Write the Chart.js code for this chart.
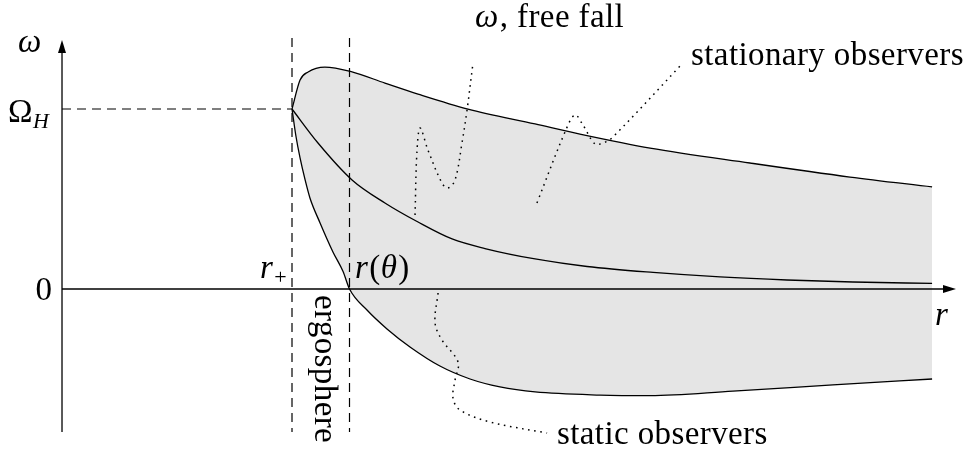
<!DOCTYPE html>
<html>
<head>
<meta charset="utf-8">
<script src="https://cdn.jsdelivr.net/npm/chart.js@4.4.1/dist/chart.umd.min.js"></script>
<style>
  html, body { margin: 0; padding: 0; background: #fff; }
  #wrap { width: 967px; height: 457px; position: relative; }
</style>
</head>
<body>
<div id="wrap"><canvas id="chart"></canvas></div>
<script>
// units: r in units of r_+, omega in units of Omega_H
const R_PLUS = 1.0;
const R_THETA = 1.25;
const OMEGA_H = 1.0;

// axes extent
const axisRMax = 3.887;
const axisOmegaMin = -0.794;
const axisOmegaMax = 1.383;
const dashOmegaTop = 1.394;

// upper boundary (max omega)
const upperR = [1.0, 1.035, 1.07, 1.143, 1.261, 1.404, 1.548, 1.765, 2.057, 2.252, 2.557, 2.991, 3.426, 3.783];
const upperOmega = [1.0, 1.161, 1.206, 1.233, 1.206, 1.144, 1.083, 1.0, 0.917, 0.861, 0.783, 0.7, 0.622, 0.567];

// middle curve (free fall)
const middleR = [1.0, 1.113, 1.261, 1.404, 1.548, 1.696, 1.839, 2.057, 2.283, 2.57, 2.861, 3.152, 3.439, 3.783];
const middleOmega = [1.0, 0.811, 0.606, 0.478, 0.372, 0.278, 0.225, 0.167, 0.125, 0.092, 0.067, 0.05, 0.039, 0.031];

// lower boundary (min omega)
const lowerR = [1.0, 1.017, 1.035, 1.057, 1.078, 1.122, 1.178, 1.222, 1.25, 1.326, 1.413, 1.513, 1.643, 1.774, 1.904, 2.057, 2.339, 2.557, 2.917, 3.352, 3.783];
const lowerOmega = [1.0, 0.85, 0.728, 0.606, 0.506, 0.367, 0.206, 0.097, 0.0, -0.117, -0.222, -0.322, -0.428, -0.5, -0.544, -0.572, -0.589, -0.592, -0.567, -0.533, -0.5];

// dotted leaders
const freeFallR = [1.535, 1.543, 1.557, 1.591, 1.652, 1.678, 1.709, 1.739, 1.761, 1.787];
const freeFallOmega = [0.411, 0.756, 0.894, 0.772, 0.589, 0.561, 0.606, 0.811, 0.994, 1.256];
const stationaryR = [2.065, 2.187, 2.23, 2.265, 2.317, 2.352, 2.391, 2.7];
const stationaryOmega = [0.478, 0.872, 0.967, 0.911, 0.806, 0.811, 0.839, 1.256];
const staticR = [1.635, 1.622, 1.652, 1.722, 1.709, 1.7, 1.73, 1.861, 2.109];
const staticOmega = [-0.022, -0.189, -0.283, -0.406, -0.506, -0.606, -0.672, -0.739, -0.8];

const zip = (xs, ys) => xs.map((x, i) => ({ x, y: ys[i] }));

const SERIF = '"Liberation Serif", "DejaVu Serif", serif';
const FILL = '#e5e5e5';

function curve(data, extra = {}) {
    return {
        data,
        showLine: true,
        borderColor: '#000',
        borderWidth: 1.3,
        pointRadius: 0,
        fill: false,
        cubicInterpolationMode: 'monotone',
        ...extra,
    };
}

function dashed(data) {
    return curve(data, { borderDash: [9, 6], tension: 0, cubicInterpolationMode: 'default', borderWidth: 1.2 });
}

function dotted(data) {
    return curve(data, { borderDash: [1.6, 4.6], tension: 0.35, cubicInterpolationMode: 'default', borderWidth: 1.5 });
}

const datasets = [
    curve(zip(upperR, upperOmega), { fill: 1, backgroundColor: FILL }),   // 0
    curve(zip(lowerR, lowerOmega)),                                          // 1
    curve(zip(middleR, middleOmega)),                                        // 2
    dashed([{ x: R_PLUS, y: dashOmegaTop }, { x: R_PLUS, y: axisOmegaMin }]),
    dashed([{ x: R_THETA, y: dashOmegaTop }, { x: R_THETA, y: axisOmegaMin }]),
    dashed([{ x: 0, y: OMEGA_H }, { x: R_PLUS, y: OMEGA_H }]),
    curve([{ x: 0, y: 0 }, { x: axisRMax - 0.03, y: 0 }], { tension: 0, cubicInterpolationMode: 'default' }),
    curve([{ x: 0, y: axisOmegaMin }, { x: 0, y: axisOmegaMax - 0.04 }], { tension: 0, cubicInterpolationMode: 'default' }),
    dotted(zip(freeFallR, freeFallOmega)),
    dotted(zip(stationaryR, stationaryOmega)),
    dotted(zip(staticR, staticOmega)),
];

// arrows at axis tips: [from, to]
const ARROWS = [
    [[0, 0], [axisRMax, 0]],
    [[0, axisOmegaMin], [0, axisOmegaMax]],
];

const LABELS = [
    { at: [-0.191, 1.317], runs: [{ t: 'ω', it: true }] },
    { at: [-0.235, 0.928], runs: [{ t: 'Ω' }, { t: 'H', it: true, sub: true }] },
    { at: [-0.115, -0.061], runs: [{ t: '0' }] },
    { at: [0.861, 0.061], runs: [{ t: 'r', it: true }, { t: '+', sub: true }] },
    { at: [1.274, 0.061], runs: [{ t: 'r', it: true }, { t: '(' }, { t: 'θ', it: true }, { t: ')' }] },
    { at: [1.1, -0.033], runs: [{ t: 'ergosphere' }], rotate: true },
    { at: [1.796, 1.456], runs: [{ t: 'ω', it: true }, { t: ', free fall' }] },
    { at: [2.735, 1.244], runs: [{ t: 'stationary observers' }] },
    { at: [2.152, -0.861], runs: [{ t: 'static observers' }] },
    { at: [3.796, -0.2], runs: [{ t: 'r', it: true }] },
];

function runFont(run) {
    const size = run.sub ? 22 : 33;
    return (run.it ? 'italic ' : '') + size + 'px ' + SERIF;
}

const arrowPlugin = {
    id: 'arrows',
    afterDatasetsDraw(chart) {
        const { ctx, scales: { x, y } } = chart;
        ctx.save();
        ctx.fillStyle = '#000';
        ARROWS.forEach(([from, to]) => {
            const x0 = x.getPixelForValue(from[0]), y0 = y.getPixelForValue(from[1]);
            const x1 = x.getPixelForValue(to[0]), y1 = y.getPixelForValue(to[1]);
            const a = Math.atan2(y1 - y0, x1 - x0);
            const len = 13, half = 4;
            ctx.beginPath();
            ctx.moveTo(x1, y1);
            ctx.lineTo(x1 - len * Math.cos(a) - half * Math.sin(a), y1 - len * Math.sin(a) + half * Math.cos(a));
            ctx.lineTo(x1 - len * Math.cos(a) + half * Math.sin(a), y1 - len * Math.sin(a) - half * Math.cos(a));
            ctx.closePath();
            ctx.fill();
        });
        ctx.restore();
    },
};

const labelPlugin = {
    id: 'labels',
    afterDraw(chart) {
        const { ctx, scales: { x, y } } = chart;
        ctx.save();
        ctx.fillStyle = '#000';
        ctx.textBaseline = 'alphabetic';
        LABELS.forEach(lab => {
            const px = x.getPixelForValue(lab.at[0]);
            const py = y.getPixelForValue(lab.at[1]);
            ctx.save();
            ctx.translate(px, py);
            if (lab.rotate) ctx.rotate(Math.PI / 2);
            let cx = 0;
            lab.runs.forEach(run => {
                ctx.font = runFont(run);
                ctx.letterSpacing = run.sub ? '0px' : '0.4px';
                ctx.fillText(run.t, cx, run.sub ? 6 : 0);
                cx += ctx.measureText(run.t).width + (run.it ? 1 : 0);
            });
            ctx.restore();
        });
        ctx.restore();
    },
};

new Chart(document.getElementById('chart'), {
    type: 'scatter',
    data: { datasets },
    options: {
        responsive: true,
        maintainAspectRatio: false,
        animation: false,
        layout: { padding: 0 },
        scales: {
            x: { type: 'linear', display: false, min: -0.2696, max: 3.9348 },
            y: { type: 'linear', display: false, min: -0.9333, max: 1.6056 },
        },
        plugins: {
            legend: { display: false },
            tooltip: { enabled: false },
            filler: { drawTime: 'beforeDatasetsDraw' },
        },
    },
    plugins: [arrowPlugin, labelPlugin],
});
</script>
</body>
</html>
